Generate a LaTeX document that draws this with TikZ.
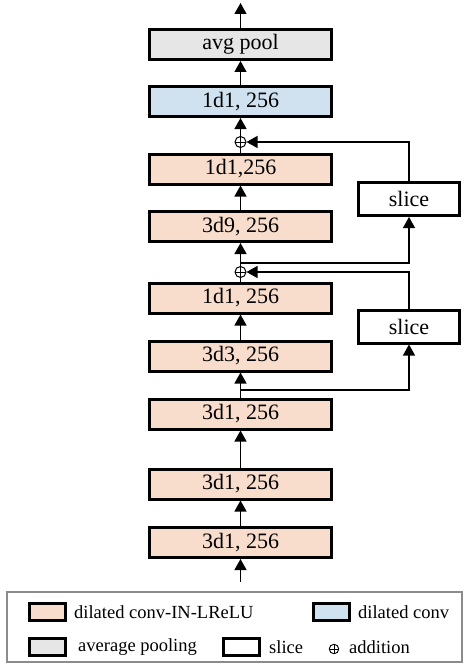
\documentclass[tikz,border=0pt]{standalone}
\usepackage{fontspec}
\setmainfont{Liberation Serif}
\usetikzlibrary{arrows.meta}
\definecolor{pinkc}{RGB}{248,221,205}
\definecolor{bluec}{RGB}{208,226,240}
\definecolor{grayc}{RGB}{230,230,230}
\definecolor{legc}{RGB}{140,140,140}
\tikzset{
  blk/.style={draw, line width=3pt, minimum width=182pt, minimum height=30pt, inner sep=0pt, font=\fontsize{22}{24}\selectfont},
  slicebox/.style={draw, fill=white, line width=3pt, minimum width=101pt, minimum height=33pt, inner sep=0pt, font=\fontsize{22}{24}\selectfont},
  conn/.style={line width=1.2pt, -{Triangle[width=12pt,length=11pt]}},
  plainline/.style={line width=1.2pt},
  addnode/.style={circle, draw, line width=1pt, minimum size=11pt, inner sep=0pt, path picture={\draw[line width=1pt] (path picture bounding box.north) -- (path picture bounding box.south) (path picture bounding box.west) -- (path picture bounding box.east);}},
  swatch/.style={draw, line width=3pt, minimum width=36pt, minimum height=17pt, inner sep=0pt},
  legtext/.style={anchor=west, inner sep=0pt, font=\fontsize{18.5}{20}\selectfont},
}
\begin{document}
\begin{tikzpicture}[x=1pt, y=-1pt]
\useasboundingbox (0,0) rectangle (466,666);
% main column
\node[blk, fill=grayc] (pool) at (240.5,44.5) {avg pool};
\node[blk, fill=bluec] (blue) at (240.5,101.5) {1d1, 256};
\node[addnode] (add1) at (240.5,142) {};
\node[blk, fill=pinkc] (p1) at (240.5,169) {1d1,256};
\node[blk, fill=pinkc] (p2) at (240.5,226.5) {3d9, 256};
\node[addnode] (add2) at (240.5,272) {};
\node[blk, fill=pinkc] (p3) at (240.5,298) {1d1, 256};
\node[blk, fill=pinkc] (p4) at (240.5,356) {3d3, 256};
\node[blk, fill=pinkc] (p5) at (240.5,414) {3d1, 256};
\node[blk, fill=pinkc] (p6) at (240.5,484) {3d1, 256};
\node[blk, fill=pinkc] (p7) at (240.5,542.5) {3d1, 256};
\node[slicebox] (sl1) at (409,199) {slice};
\node[slicebox] (sl2) at (409,326.5) {slice};
\coordinate (top) at (240.5,3);
\coordinate (bot) at (240.5,582);
\coordinate (s1) at (240.5,263);
\coordinate (s2) at (240.5,390);
% chain
\draw[conn] (pool.north) -- (top);
\draw[conn] (blue.north) -- (pool.south);
\draw[conn] (add1.north) -- (blue.south);
\draw[plainline] (p1.north) -- (add1.south);
\draw[conn] (p2.north) -- (p1.south);
\draw[conn] (add2.north) -- (p2.south);
\draw[plainline] (p3.north) -- (add2.south);
\draw[conn] (p4.north) -- (p3.south);
\draw[conn] (p5.north) -- (p4.south);
\draw[conn] (p6.north) -- (p5.south);
\draw[conn] (p7.north) -- (p6.south);
\draw[conn] (bot) -- (p7.south);
% skip connections
\draw[conn] (s1) -| (sl1.south);
\draw[conn] (sl1.north) |- (add1.east);
\draw[conn] (s2) -| (sl2.south);
\draw[conn] (sl2.north) |- (add2.east);
% legend
\draw[legc, line width=1.5pt] (7,592) rectangle (462,662);
\node[swatch, fill=pinkc] (lg1) at (47.5,612) {};
\node[legtext] (lt1) at (74,612) {dilated conv-IN-LReLU};
\node[swatch, fill=bluec] (lg2) at (331.5,612) {};
\node[legtext] (lt2) at (358,612) {dilated conv};
\node[swatch, fill=grayc] (lg3) at (47.5,647) {};
\node[legtext] (lt3) at (78,647) {average pooling};
\node[swatch, fill=white] (lg4) at (241,647) {};
\node[legtext] (lt4) at (269,647) {slice};
\node[addnode, minimum size=9.5pt, line width=0.9pt] (lg5) at (334,649) {};
\node[legtext] (lt5) at (349,647) {addition};
\end{tikzpicture}
\end{document}
